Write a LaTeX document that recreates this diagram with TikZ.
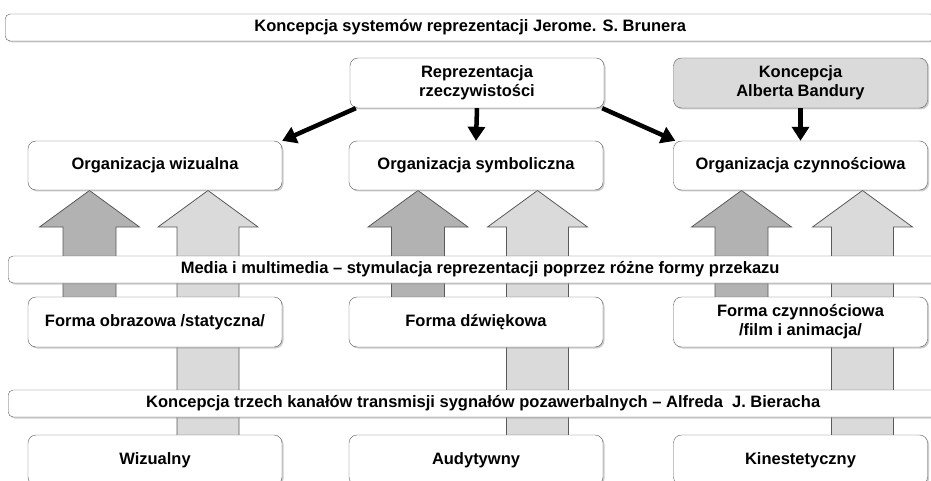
\documentclass[tikz,border=0pt]{standalone}
\usepackage{fontspec}
\setmainfont{Liberation Sans}
\usetikzlibrary{positioning, arrows.meta, shadows}

\definecolor{darkarrow}{HTML}{B2B2B2}
\definecolor{lightarrow}{HTML}{DADADA}
\definecolor{edge}{HTML}{5A5A5A}

\begin{document}
\begin{tikzpicture}[x=1pt, y=-1pt,
  box/.style={draw=edge, fill=white, rounded corners=8pt, minimum width=254pt,
    minimum height=50pt, align=center, inner sep=2pt,
    font=\bfseries\fontsize{16.5}{19}\selectfont,
    drop shadow={shadow xshift=1.5pt, shadow yshift=-1.5pt, fill=black!40, opacity=.5}},
  band/.style={draw=edge, fill=white, rounded corners=5pt, minimum width=930pt,
    minimum height=27pt, inner sep=0pt, anchor=west,
    font=\bfseries\fontsize{16.5}{19}\selectfont,
    drop shadow={shadow xshift=1.5pt, shadow yshift=-1.5pt, fill=black!40, opacity=.5}},
  link/.style={line width=4.5pt, -{Triangle[width=17pt,length=14pt]}},
  blockarrow/.style={draw=edge, line width=.8pt, line join=miter}]

\useasboundingbox (0,0) rectangle (931,481);

% block arrows (drawn first, behind the boxes)
\foreach \xc/\yb/\hw/\shade in
{89.5/300/26.5/darkarrow,418/300/26.5/darkarrow,741.5/300/26.5/darkarrow,
 208/440/31/lightarrow,537.5/440/31/lightarrow,862.5/440/31/lightarrow}
\filldraw[blockarrow, fill=\shade]
(\xc-\hw,\yb) -- (\xc-\hw,227) -- (\xc-50,227) -- (\xc,190.5)
  -- (\xc+50,227) -- (\xc+\hw,227) -- (\xc+\hw,\yb);

% banners
\node[band] (bruner) at (5,27.5) {Koncepcja systemów reprezentacji Jerome. S. Brunera};
\node[band] (media) at (8,269.5) {\hspace*{14pt}Media i multimedia – stymulacja reprezentacji poprzez różne formy przekazu};
\node[band] (bierach) at (8,403.5) {\hspace*{20pt}Koncepcja trzech kanałów transmisji sygnałów pozawerbalnych – Alfreda\ \ J. Bieracha};

% top row
\node[box] (repr) at (477,83) {Reprezentacja\\rzeczywistości};
\node[box, fill=lightarrow] (bandura) at (800.5,83) {Koncepcja\\Alberta Bandury};

% organizacja
\node[box, minimum height=49pt] (ow) at (155,165.5) {Organizacja wizualna};
\node[box, minimum height=49pt] (os) at (476,165.5) {Organizacja symboliczna};
\node[box, minimum height=49pt] (oc) at (800.5,165.5) {Organizacja czynnościowa};

% formy
\node[box] (fo) at (155,322) {Forma obrazowa /statyczna/};
\node[box] (fd) at (476,322) {Forma dźwiękowa};
\node[box] (fc) at (800.5,322) {Forma czynnościowa\\/film i animacja/};

% kanaly
\node[box] (kw) at (155,460) {Wizualny};
\node[box] (ka) at (476,460) {Audytywny};
\node[box] (kk) at (800.5,460) {Kinestetyczny};

% black arrows
\draw[link] ([xshift=6pt]repr.south west) -- (ow.north east);
\draw[link] (repr.south) -- (os.north);
\draw[link] ([xshift=-2pt]repr.south east) -- ([xshift=2pt]oc.north west);
\draw[link] (bandura.south) -- (oc.north);

\end{tikzpicture}
\end{document}
